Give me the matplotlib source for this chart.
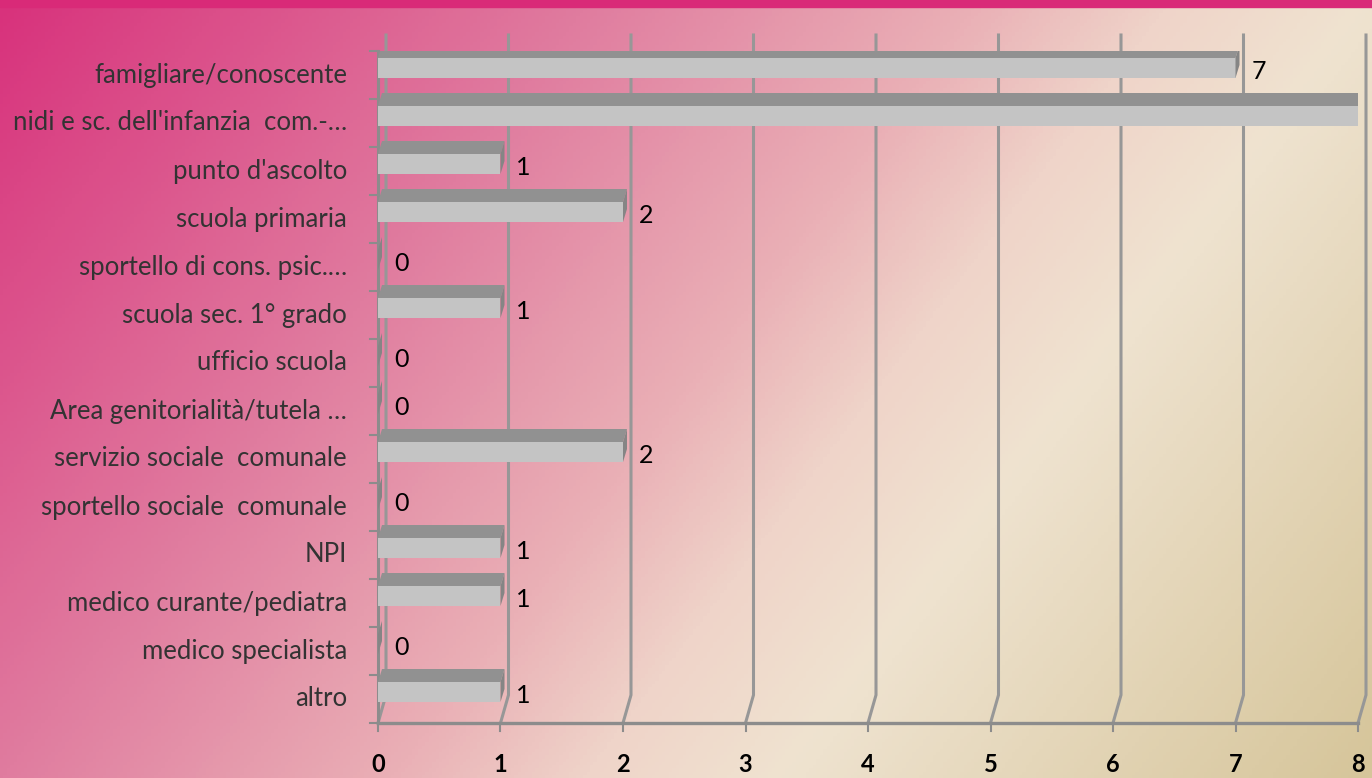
import matplotlib.pyplot as plt
import numpy as np
from matplotlib.colors import LinearSegmentedColormap
from matplotlib.patches import Rectangle

plt.rcParams['font.family'] = ['Lato', 'DejaVu Sans']

# dati
categorie = ["famigliare/conoscente", "nidi e sc. dell'infanzia  com.-\u2026",
             "punto d'ascolto", "scuola primaria", "sportello di cons. psic.\u2026",
             "scuola sec. 1\u00b0 grado", "ufficio scuola", "Area genitorialit\u00e0/tutela \u2026",
             "servizio sociale  comunale", "sportello sociale  comunale", "NPI",
             "medico curante/pediatra", "medico specialista", "altro"]
valori = [7, 8, 1, 2, 0, 1, 0, 0, 2, 0, 1, 1, 0, 1]
xticks = [0, 1, 2, 3, 4, 5, 6, 7, 8]

W, H = 1372, 778
fig = plt.figure(figsize=(W/100, H/100), dpi=100)

# sfondo sfumato
bg = fig.add_axes([0, 0, 1, 1])
bg.axis('off')
xx, yy = np.meshgrid(np.linspace(0, 1, 400), np.linspace(0, 1, 240))
t = 0.7*xx + 0.3*yy
cmap = LinearSegmentedColormap.from_list('sfondo', [(0, '#d8327c'), (0.3, '#e07c9f'),
                                                    (0.5, '#eab0b6'), (0.6, '#efd4c9'),
                                                    (0.7, '#efe3d0'), (1, '#d6c59a')])
bg.imshow(t, cmap=cmap, extent=[0, 1, 0, 1], origin='upper', aspect='auto')
bg.add_patch(Rectangle((0, 1-7/H), 1, 7/H, color='#d92a78'))
bg.set_xlim(0, 1)
bg.set_ylim(0, 1)

ax = fig.add_axes([378/W, 55/H, 980/W, 672/H])
ax.set_xlim(0, 8)
ax.set_ylim(-0.5, 13.5)
ax.axis('off')
ux = 8/980.
uy = 14/672.

pos = np.arange(len(categorie))[::-1]
grigio = '#8c8c8c'

# griglia (parete di fondo)
for k in xticks:
    ax.plot([k, k+8*ux, k+8*ux], [-0.5, -0.5+28*uy, 13.5+16*uy], color='#979797',
            lw=2.2, clip_on=False, zorder=1)
# assi
ax.plot([0, 0], [-0.5, 13.5], color=grigio, lw=2.2, clip_on=False, zorder=2)
for b in np.arange(-0.5, 14, 1):
    ax.plot([-8*ux, 0], [b, b], color=grigio, lw=1.5, clip_on=False, zorder=2)
ax.plot([0, 8], [-0.5, -0.5], color=grigio, lw=2.4, clip_on=False, zorder=2)
for k in xticks:
    ax.plot([k, k], [-0.5, -0.5-8*uy], color=grigio, lw=1.5, clip_on=False, zorder=2)

# barre 3D
dx, dy = 4*ux, 13*uy
ax.barh(pos+7*uy, valori, height=20*uy, color='#c4c4c4', zorder=3)
for p, v in zip(pos, valori):
    yb = p + 7*uy - 10*uy
    yt = p + 7*uy + 10*uy
    ax.fill([0, v, v+dx, dx], [yt, yt, yt+dy, yt+dy], color='#919191', zorder=3, lw=0)
    ax.fill([v, v+dx, v+dx, v], [yb, yb+dy, yt+dy, yt], color='#858585', zorder=3, lw=0)
    if v + 0.14 < 8:
        ax.text(v+0.13, p+0.08, str(v), fontsize=18, ha='left', va='center',
                color='black', clip_on=False)

for p, c in zip(pos, categorie):
    ax.text(-31*ux, p, c, ha='right', va='center', fontsize=18.5, color='#333333')
for k in xticks:
    ax.text(k, -0.5-42*uy, str(k), ha='center', va='center', fontsize=17,
            fontweight='bold', color='black')

fig.savefig('out.png', dpi=100)
